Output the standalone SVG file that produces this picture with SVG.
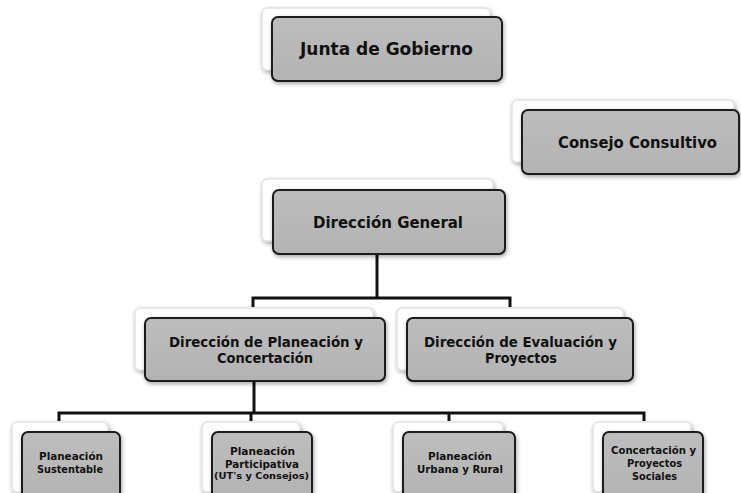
<svg xmlns="http://www.w3.org/2000/svg" width="741" height="493" viewBox="0 0 741 493">
<defs>
<filter id="sh" x="-10%" y="-10%" width="130%" height="140%">
<feGaussianBlur in="SourceAlpha" stdDeviation="2"/>
<feOffset dx="1" dy="2" result="b"/>
<feComponentTransfer><feFuncA type="linear" slope="0.35"/></feComponentTransfer>
<feMerge><feMergeNode/><feMergeNode in="SourceGraphic"/></feMerge>
</filter>
<linearGradient id="g" x1="0" y1="0" x2="0" y2="1">
<stop offset="0" stop-color="#bdbdbd"/>
<stop offset="1" stop-color="#b3b3b3"/>
</linearGradient>
</defs>
<style>
.back{fill:#ffffff;stroke:#e2e2e2;stroke-width:1.5}
.box{fill:url(#g);stroke:#1a1a1a;stroke-width:2}
.t{font-family:"DejaVu Sans","Liberation Sans",sans-serif;font-weight:bold;fill:#111;text-anchor:middle}
.ln{fill:none;stroke:#111;stroke-width:3}
</style>
<rect width="741" height="493" fill="#ffffff"/>
<g id="connectors">
<path class="ln" d="M377,254 V298 M253,307 V298 H510 V307"/>
<path class="ln" d="M254,381 V413 M59,421 V413 H644 V421 M251,413 V421 M449,413 V421"/>
</g>
<g id="junta">
<rect class="back" x="262" y="8" width="228" height="62" rx="5" filter="url(#sh)"/>
<rect class="box" x="272" y="17" width="230" height="64" rx="6" filter="url(#sh)"/>
<text class="t" x="386.5" y="55" font-size="17.5" textLength="173" lengthAdjust="spacingAndGlyphs">Junta de Gobierno</text>
</g>
<g id="consejo">
<rect class="back" x="512" y="100" width="222" height="62" rx="5" filter="url(#sh)"/>
<rect class="box" x="522" y="110" width="217" height="64" rx="6" filter="url(#sh)"/>
<text class="t" x="637.5" y="148" font-size="16" textLength="159" lengthAdjust="spacingAndGlyphs">Consejo Consultivo</text>
</g>
<g id="direccion-general">
<rect class="back" x="262" y="179" width="231" height="62" rx="5" filter="url(#sh)"/>
<rect class="box" x="273" y="190" width="232" height="64" rx="6" filter="url(#sh)"/>
<text class="t" x="388" y="228" font-size="16.5" textLength="150" lengthAdjust="spacingAndGlyphs">Dirección General</text>
</g>
<g id="dir-planeacion">
<rect class="back" x="135" y="308" width="238" height="62" rx="5" filter="url(#sh)"/>
<rect class="box" x="145" y="318" width="240" height="63" rx="6" filter="url(#sh)"/>
<text class="t" x="266" y="347" font-size="14" textLength="194" lengthAdjust="spacingAndGlyphs">Dirección de Planeación y</text>
<text class="t" x="265" y="363" font-size="14" textLength="96" lengthAdjust="spacingAndGlyphs">Concertación</text>
</g>
<g id="dir-evaluacion">
<rect class="back" x="397" y="308" width="226" height="62" rx="5" filter="url(#sh)"/>
<rect class="box" x="407" y="318" width="226" height="63" rx="6" filter="url(#sh)"/>
<text class="t" x="520.5" y="347" font-size="14" textLength="193" lengthAdjust="spacingAndGlyphs">Dirección de Evaluación y</text>
<text class="t" x="521" y="363" font-size="14" textLength="72" lengthAdjust="spacingAndGlyphs">Proyectos</text>
</g>
<g id="plan-sustentable">
<rect class="back" x="12" y="422" width="96" height="70" rx="5" filter="url(#sh)"/>
<rect class="box" x="22" y="432" width="98" height="70" rx="6" filter="url(#sh)"/>
<text class="t" x="71" y="460" font-size="11" textLength="64" lengthAdjust="spacingAndGlyphs">Planeación</text>
<text class="t" x="70" y="473" font-size="11" textLength="66" lengthAdjust="spacingAndGlyphs">Sustentable</text>
</g>
<g id="plan-participativa">
<rect class="back" x="202" y="422" width="98" height="70" rx="5" filter="url(#sh)"/>
<rect class="box" x="212" y="432" width="100" height="70" rx="6" filter="url(#sh)"/>
<text class="t" x="262.5" y="455" font-size="11" textLength="65" lengthAdjust="spacingAndGlyphs">Planeación</text>
<text class="t" x="262" y="468" font-size="11" textLength="74" lengthAdjust="spacingAndGlyphs">Participativa</text>
<text class="t" x="261.5" y="479" font-size="9.5" textLength="95" lengthAdjust="spacingAndGlyphs">(UT's y Consejos)</text>
</g>
<g id="plan-urbana">
<rect class="back" x="393" y="422" width="110" height="70" rx="5" filter="url(#sh)"/>
<rect class="box" x="403" y="432" width="112" height="70" rx="6" filter="url(#sh)"/>
<text class="t" x="460" y="460" font-size="11" textLength="64" lengthAdjust="spacingAndGlyphs">Planeación</text>
<text class="t" x="460" y="473" font-size="11" textLength="86" lengthAdjust="spacingAndGlyphs">Urbana y Rural</text>
</g>
<g id="concertacion">
<rect class="back" x="593" y="422" width="98" height="70" rx="5" filter="url(#sh)"/>
<rect class="box" x="603" y="432" width="100" height="70" rx="6" filter="url(#sh)"/>
<text class="t" x="653.5" y="454" font-size="11" textLength="85" lengthAdjust="spacingAndGlyphs">Concertación y</text>
<text class="t" x="654.5" y="467" font-size="11" textLength="55" lengthAdjust="spacingAndGlyphs">Proyectos</text>
<text class="t" x="654.5" y="480" font-size="11" textLength="45" lengthAdjust="spacingAndGlyphs">Sociales</text>
</g>
</svg>
